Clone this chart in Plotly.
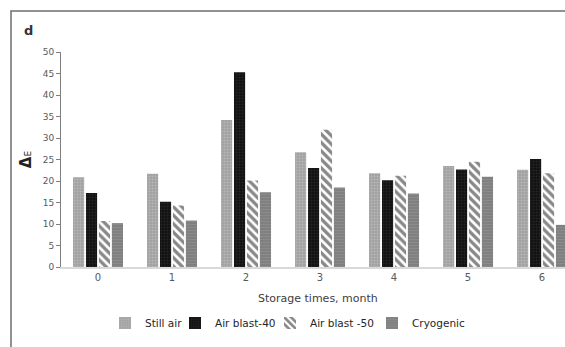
import plotly.graph_objects as go

months = ["0", "1", "2", "3", "4", "5", "6"]
still_air = [20.9, 21.7, 34.2, 26.7, 21.8, 23.5, 22.6]
air_blast_40 = [17.2, 15.2, 45.3, 23.0, 20.2, 22.7, 25.1]
air_blast_50 = [10.7, 14.3, 20.1, 31.9, 21.2, 24.5, 21.8]
cryogenic = [10.2, 10.8, 17.4, 18.5, 17.1, 21.0, 9.8]
y_ticks = [0, 5, 10, 15, 20, 25, 30, 35, 40, 45, 50]

FONT = "DejaVu Sans"
TXT = "#595959"

fig = go.Figure()
fig.add_trace(go.Bar(
    name="Still air", x=months, y=still_air, legend="legend",
    marker=dict(color="#a6a6a6", line=dict(width=0),
                pattern=dict(shape=".", fgcolor="#d0d0d0", bgcolor="#a0a0a0", size=3, solidity=0.35)),
))
fig.add_trace(go.Bar(
    name="Air blast-40", x=months, y=air_blast_40, legend="legend2",
    marker=dict(color="#111111", line=dict(width=0),
                pattern=dict(shape=".", fgcolor="#3a3a3a", bgcolor="#111111", size=3, solidity=0.35)),
))
fig.add_trace(go.Bar(
    name="Air blast -50", x=months, y=air_blast_50, legend="legend3",
    marker=dict(color="white", line=dict(width=0),
                pattern=dict(shape="\\", fgcolor="#111111", bgcolor="white", size=6, solidity=0.55)),
))
fig.add_trace(go.Bar(
    name="Cryogenic", x=months, y=cryogenic, legend="legend4",
    marker=dict(color="#858585", line=dict(width=0),
                pattern=dict(shape="-", fgcolor="#9a9a9a", bgcolor="#808080", size=3, solidity=0.3)),
))

L, T, B = 61, 52, 80
W, H = 565, 347
pw = W - L
ph = H - T - B

def px_x(x):
    return (x - L) / pw

def px_y(y):
    return (H - B - y) / ph

def leg(text_start):
    return dict(orientation="h", x=px_x(text_start - 40), xanchor="left", y=px_y(323), yanchor="middle",
                font=dict(size=10.5, color="#262626"), bgcolor="rgba(0,0,0,0)", itemwidth=30)

fig.update_layout(
    width=W, height=H,
    margin=dict(l=L, r=0, t=T, b=B, autoexpand=False),
    paper_bgcolor="white", plot_bgcolor="white",
    barmode="group", bargap=0.3, bargroupgap=0.14,
    font=dict(family=FONT, size=10, color=TXT),
    showlegend=True,
    legend=leg(145), legend2=leg(215), legend3=leg(310), legend4=leg(412),
    xaxis=dict(type="category", range=[-0.5, 6.31], showline=True, linecolor="#d9d9d9",
               linewidth=2, ticks="", showgrid=False, tickfont=dict(size=10, color=TXT),
               automargin=False),
    yaxis=dict(range=[0, 50], tickvals=y_ticks, showline=True, linecolor="#7f7f7f", linewidth=1,
               ticks="outside", ticklen=4, tickcolor="#7f7f7f", showgrid=False, zeroline=False,
               tickfont=dict(size=9, color=TXT), automargin=False,
               title=dict(text="<b>Δ</b><span style='font-size:9px'>E</span>",
                          font=dict(size=15, color="#222222"), standoff=7)),
    shapes=[
        dict(type="path", xref="paper", yref="paper",
             path=f"M {px_x(11)} {px_y(400)} L {px_x(11)} {px_y(11)} L {px_x(600)} {px_y(11)}",
             line=dict(color="#6d6d6d", width=1.5)),
    ],
    annotations=[
        dict(text="<b>d</b>", xref="paper", yref="paper", x=px_x(28), y=px_y(31),
             xanchor="center", yanchor="middle", showarrow=False,
             font=dict(size=13, color="#333333")),
        dict(text="Storage times, month", xref="paper", yref="paper", x=px_x(318), y=px_y(298),
             xanchor="center", yanchor="middle", showarrow=False,
             font=dict(size=11, color="#404040")),
    ],
)

fig.write_html("out.html", config={"displayModeBar": False},
               post_script="document.body.style.margin='0';document.body.style.overflow='hidden';")
